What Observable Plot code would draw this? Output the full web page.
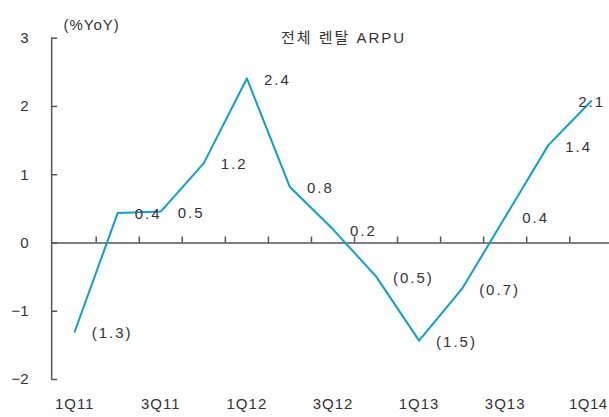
<!DOCTYPE html>
<html><head><meta charset="utf-8">
<script src="https://cdn.jsdelivr.net/npm/d3@7"></script>
<script src="https://cdn.jsdelivr.net/npm/@observablehq/plot@0.6"></script>
<style>html,body{margin:0;padding:0;background:#fff;overflow:hidden}</style>
</head><body><div id="chart"></div>
<script>
const title = "전체 렌탈 ARPU";
const unitLabel = "(%YoY)";
const quarters = ["1Q11","2Q11","3Q11","4Q11","1Q12","2Q12","3Q12","4Q12","1Q13","2Q13","3Q13","4Q13","1Q14"];
const values = [-1.3,0.44,0.46,1.17,2.41,0.82,0.2,-0.49,-1.43,-0.67,0.38,1.43,2.08];
const valueLabels = ["(1.3)","0.4","0.5","1.2","2.4","0.8","0.2","(0.5)","(1.5)","(0.7)","0.4","1.4","2.1"];
const yTicks = [-2,-1,0,1,2,3];
const xTickLabels = ["1Q11","3Q11","1Q12","3Q12","1Q13","3Q13","1Q14"];

const rows = quarters.map((q,i)=>({i, q, v: values[i], label: valueLabels[i]}));
const last = rows.length - 1;
const boundaries = quarters.slice(1).map((q,i)=>i+0.5);
const xLabelRows = xTickLabels.map(t=>({t, i: quarters.indexOf(t)}));

const font = "'Liberation Sans', 'Noto Sans CJK KR', sans-serif";
const txt = "#333";
const axisColor = "#555";
const lineColor = "#109fc6";
const fmt = d => d < 0 ? "\u2212" + Math.abs(d) : String(d);

const chart = Plot.plot({
  width: 609, height: 417,
  marginTop: 0, marginBottom: 0, marginLeft: 0, marginRight: 0,
  style: {fontFamily: font, background: "#fff"},
  x: {domain: [-0.5, quarters.length - 0.5], range: [52.65, 612.3], axis: null},
  y: {domain: [-2, 3], range: [379, 37.7], axis: null},
  marks: [
    Plot.ruleY([0], {x1: -0.5, x2: quarters.length - 0.5, dx: -1.5, stroke: axisColor, strokeWidth: 1.5}),
    Plot.ruleX([-0.5], {y1: -2, y2: 3, dx: -1.5, stroke: axisColor, strokeWidth: 1.5}),
    Plot.ruleY(yTicks, {x1: -0.5, x2: -0.5, insetRight: -6, dx: -1.5, stroke: axisColor, strokeWidth: 1.5}),
    Plot.ruleX(boundaries, {y1: 0, y2: 0, insetTop: -6, stroke: axisColor, strokeWidth: 1.5}),
    Plot.text(yTicks, {y: d=>d, text: d=>fmt(d), frameAnchor: "left", dx: 28, textAnchor: "end", fontSize: 15, fill: txt}),
    Plot.text(xLabelRows.filter(d=>d.i !== last), {x: "i", text: "t", frameAnchor: "bottom", dy: -9, fontSize: 15, fill: txt}),
    Plot.text(xLabelRows.filter(d=>d.i === last), {x: "i", text: "t", frameAnchor: "bottom", dy: -9, dx: -3, fontSize: 15, fill: txt}),
    Plot.line(rows, {x: "i", y: "v", stroke: lineColor, strokeWidth: 2}),
    Plot.text(rows.filter(d=>d.i !== last), {x: "i", y: "v", text: "label", textAnchor: "start", dx: 17, dy: 1.5, fontSize: 15, fill: txt}),
    Plot.text(rows.filter(d=>d.i === last), {x: "i", y: "v", text: "label", textAnchor: "start", dx: -13, dy: 1, fontSize: 15, fill: txt}),
    Plot.text([unitLabel], {frameAnchor: "top-left", dx: 63, dy: 19, textAnchor: "start", fontSize: 15, fill: txt}),
    Plot.text([title], {frameAnchor: "top-left", dx: 343, dy: 32, textAnchor: "middle", fontSize: 15, fill: txt})
  ]
});
// per-mark letter spacing (text marks in order)
const spacings = ["0px", "1px", "0.5px", "2px", "2px", "1px", "2px"];
chart.querySelectorAll('g[aria-label="text"]').forEach((g, k) => {
  g.style.letterSpacing = spacings[k] || "0px";
});
document.getElementById("chart").appendChild(chart);
</script>
</body></html>
